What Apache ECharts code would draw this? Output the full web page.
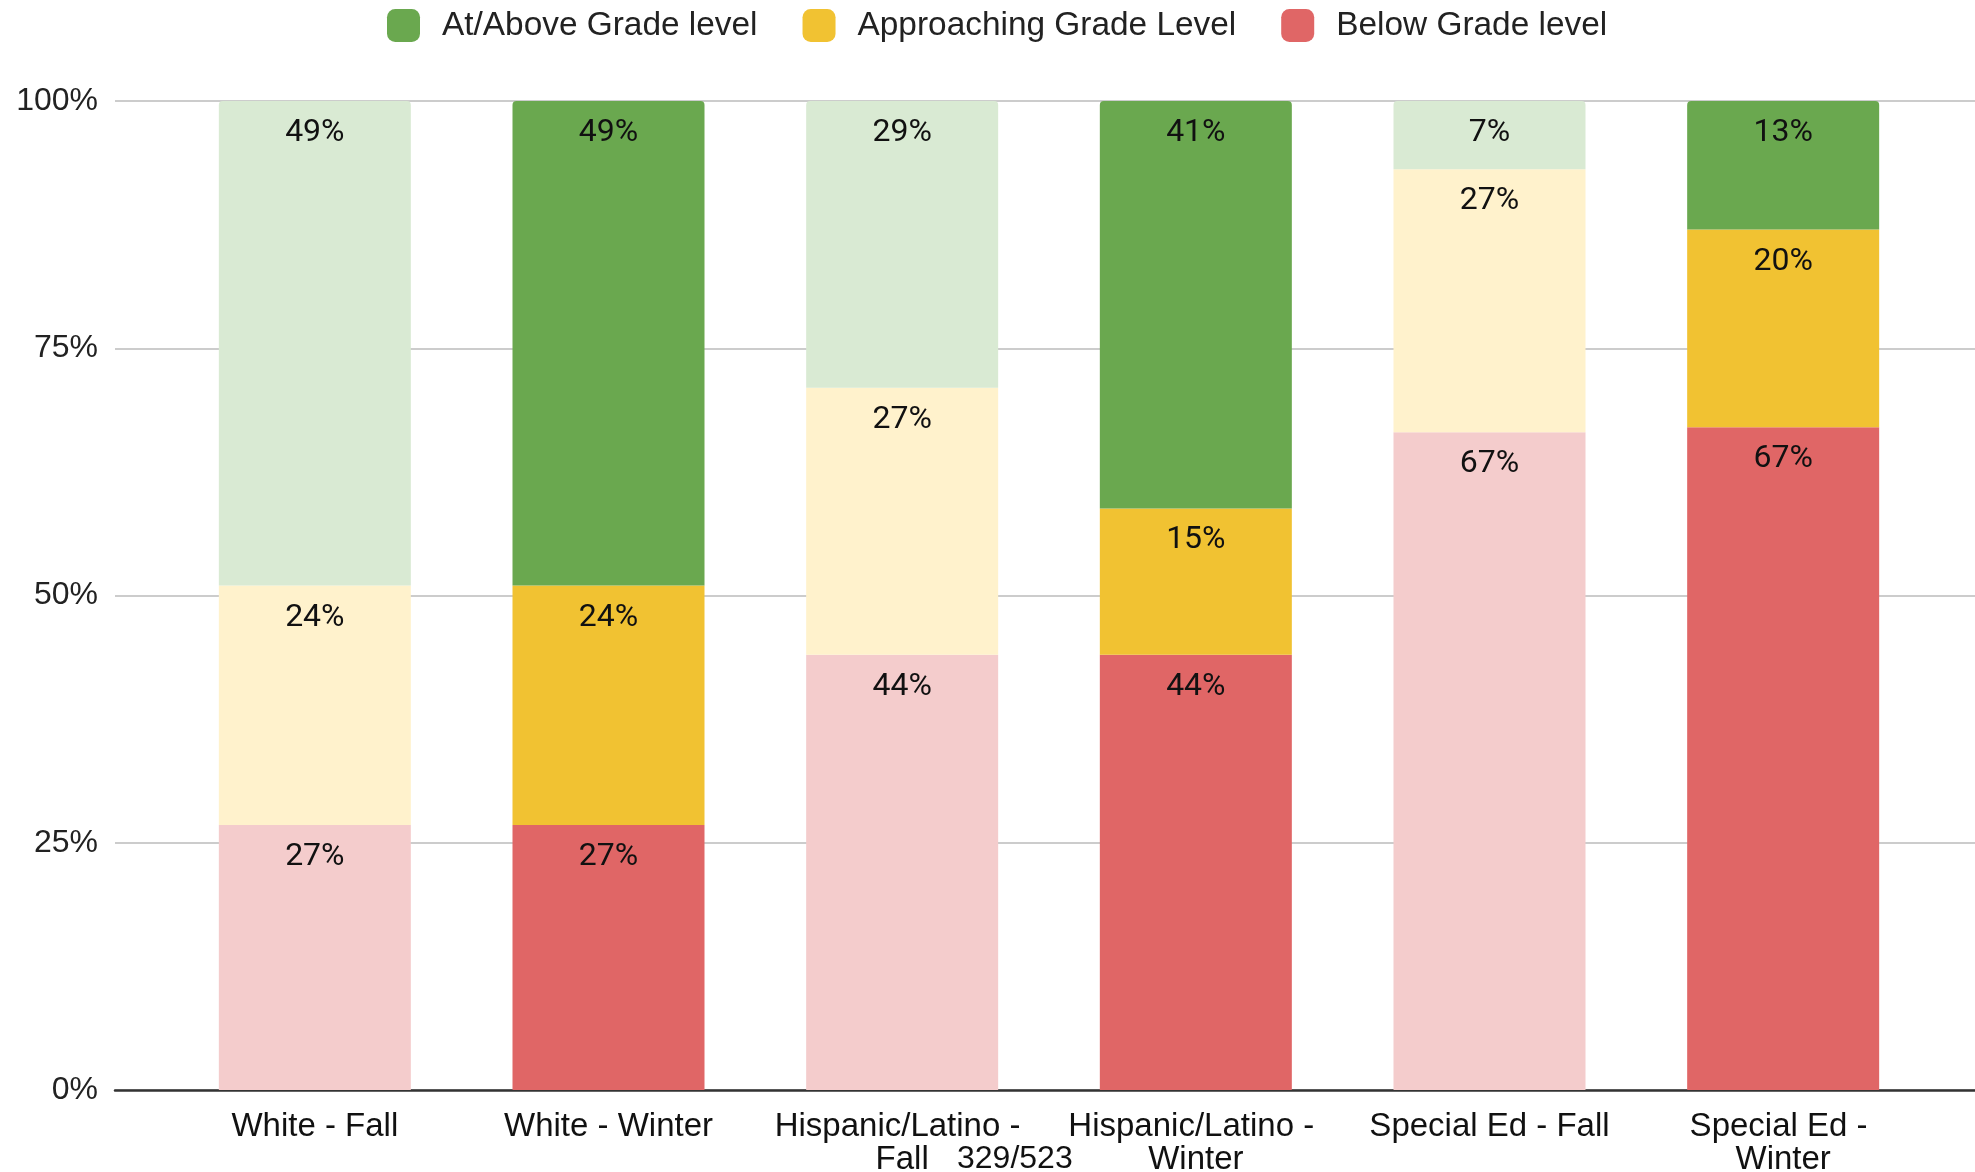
<!DOCTYPE html>
<html>
<head>
<meta charset="utf-8">
<script src="https://cdn.jsdelivr.net/npm/echarts@6/dist/echarts.min.js"></script>
<style>
html,body{margin:0;padding:0;background:#fff;}
#chart{width:1975px;height:1172px;}
</style>
</head>
<body>
<div id="chart"></div>
<script>
// ---- data ----
const categories = ['White - Fall', 'White - Winter', 'Hispanic/Latino - Fall', 'Hispanic/Latino - Winter', 'Special Ed - Fall', 'Special Ed - Winter'];
const belowGrade = [26.8, 26.8, 44.0, 44.0, 66.5, 67.0];
const approachingGrade = [24.2, 24.2, 27.0, 14.8, 26.6, 20.0];
const atAboveGrade = [49.0, 49.0, 29.0, 41.2, 6.9, 13.0];
const yTicks = [0, 25, 50, 75, 100];
const seriesNames = ['At/Above Grade level', 'Approaching Grade Level', 'Below Grade level'];
const footNote = '329/523';

const FONT = '"Liberation Sans", Arial, Helvetica, sans-serif';
const LABEL_FONT = 'Roboto, "Liberation Sans", Arial, sans-serif';
const palette = {
  'At/Above Grade level': { dark: '#6aa84f', light: '#d9ead3' },
  'Approaching Grade Level': { dark: '#f1c232', light: '#fff2cc' },
  'Below Grade level': { dark: '#e06666', light: '#f4cccc' }
};
const isFall = categories.map(c => /Fall$/.test(c));

function buildSeries(name, values, top) {
  const col = palette[name];
  return {
    name: name,
    type: 'bar',
    stack: 'total',
    xAxisIndex: 1,
    yAxisIndex: 1,
    barWidth: 192,
    itemStyle: { color: col.dark, borderRadius: top ? [4, 4, 0, 0] : 0 },
    data: values.map((v, i) => ({
      value: v,
      itemStyle: { color: isFall[i] ? col.light : col.dark }
    })),
    label: {
      show: true,
      position: 'insideTop',
      distance: 16,
      fontFamily: LABEL_FONT,
      fontSize: 32,
      color: '#111',
      formatter: p => Math.round(p.value) + '%'
    },
    emphasis: { disabled: true }
  };
}

const chart = echarts.init(document.getElementById('chart'), null, { renderer: 'canvas' });
chart.setOption({
  animation: false,
  backgroundColor: '#ffffff',
  textStyle: { fontFamily: FONT },
  legend: {
    data: seriesNames,
    top: 9,
    left: 387,
    padding: 0,
    icon: 'roundRect',
    itemWidth: 33,
    itemHeight: 33,
    itemGap: 45,
    textStyle: { fontFamily: FONT, fontSize: 33.4, color: '#222', padding: [0, 0, 0, 17] },
    selectedMode: false
  },
  grid: [
    { left: 115, right: 0, top: 101, bottom: 82, outerBoundsMode: 'none', containLabel: false },
    { left: 168, right: 45, top: 101, bottom: 82, outerBoundsMode: 'none', containLabel: false }
  ],
  xAxis: [
    {
      gridIndex: 0, type: 'value', min: 0, max: 1,
      axisLine: { show: true, lineStyle: { color: '#333', width: 2.5 } },
      axisTick: { show: false }, axisLabel: { show: false }, splitLine: { show: false }
    },
    {
      gridIndex: 1, type: 'category', data: categories,
      axisLine: { show: false }, axisTick: { show: false },
      axisLabel: {
        interval: 0, margin: 20, fontFamily: FONT, fontSize: 33, color: '#111',
        lineHeight: 33, width: 272, overflow: 'break'
      }
    }
  ],
  yAxis: [
    {
      gridIndex: 0, type: 'value', min: yTicks[0], max: yTicks[yTicks.length - 1], interval: 25,
      axisLine: { show: false }, axisTick: { show: false },
      axisLabel: { margin: 17, fontFamily: FONT, fontSize: 32, color: '#222', formatter: '{value}%' },
      splitLine: { show: true, lineStyle: { color: '#cccccc', width: 2 } }
    },
    {
      gridIndex: 1, type: 'value', min: 0, max: 100, show: false
    }
  ],
  series: [
    buildSeries('Below Grade level', belowGrade, false),
    buildSeries('Approaching Grade Level', approachingGrade, false),
    buildSeries('At/Above Grade level', atAboveGrade, true)
  ],
  graphic: [
    {
      type: 'text', left: 957, top: 1143,
      style: { text: footNote, font: '32px ' + FONT, fill: '#111' }
    }
  ]
});
</script>
</body>
</html>
